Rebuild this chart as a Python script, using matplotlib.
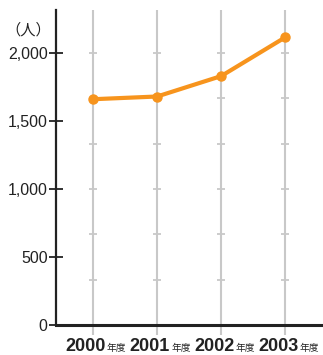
import matplotlib
matplotlib.use("Agg")
import matplotlib.pyplot as plt
import numpy as np

plt.rcParams['font.family'] = ['Liberation Sans', 'Noto Sans CJK JP', 'DejaVu Sans']

# 年度ごとの人数
years = ['2000', '2001', '2002', '2003']
people = [1660, 1680, 1830, 2115]
y_ticks = [0, 500, 1000, 1500, 2000]
y_tick_labels = ['0', '500', '1,000', '1,500', '2,000']

orange = '#F7941D'
grid_gray = '#c8c8c8'

fig = plt.figure(figsize=(3.23, 3.55), dpi=100)
ax = fig.add_axes([56 / 323, 30 / 355, 1 - 56 / 323, 315 / 355])

x = np.arange(len(years))
ax.set_xlim(-0.578, 3.59)
ax.set_ylim(0, 2316)

# 縦の補助線（下の軸線より少し下まで伸ばす）
ax.vlines(x, -75, 2316, color=grid_gray, lw=1.5, zorder=1, clip_on=False)

# 補助線上の目盛り
marks = np.arange(1, 7) * 2000 / 6
for xi in x:
    ax.plot([xi] * len(marks), marks, ls='none', marker='_', ms=6,
            mew=1.3, color=grid_gray, zorder=1)

ax.plot(x, people, color=orange, lw=3, marker='o', ms=6.5, zorder=3,
        solid_capstyle='round')

for s in ['top', 'right']:
    ax.spines[s].set_visible(False)
ax.spines['left'].set_linewidth(1.6)
ax.spines['bottom'].set_linewidth(2.2)
ax.spines['left'].set_color('#222222')
ax.spines['bottom'].set_color('#222222')

ax.set_yticks(y_ticks)
ax.set_yticklabels(y_tick_labels, fontsize=11.5, color='#222222')
ax.tick_params(axis='y', direction='inout', length=10, width=1.3,
               color='#222222', pad=1)
ax.set_xticks([])

# 年度ラベル（数字は太字、「年度」は小さく）
for xi, yr in zip(x, years):
    ax.annotate(yr, xy=(xi, 0), xytext=(13, -26), textcoords='offset pixels',
                ha='right', va='baseline', fontsize=13, fontweight='bold',
                color='#222222', annotation_clip=False)
    ax.annotate('年度', xy=(xi, 0), xytext=(14, -26), textcoords='offset pixels',
                ha='left', va='baseline', fontsize=7, color='#222222',
                family='Noto Sans CJK JP', annotation_clip=False)

fig.text(51 / 323, 1 - 30 / 355, '（人）', ha='right', va='center',
         fontsize=11, color='#222222', family='Noto Sans CJK JP')

fig.savefig('out.png', dpi=100)
